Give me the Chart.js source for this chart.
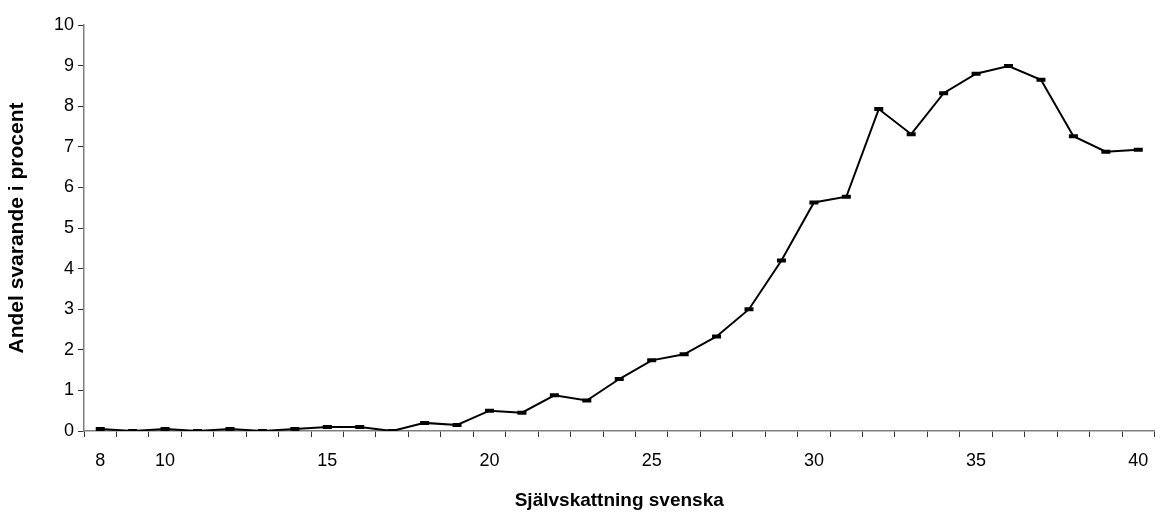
<!DOCTYPE html>
<html>
<head>
<meta charset="utf-8">
<script src="https://cdn.jsdelivr.net/npm/chart.js@4.4.0/dist/chart.umd.min.js"></script>
<style>
  html, body { margin: 0; padding: 0; background: #fff; }
  #wrap { width: 1163px; height: 514px; }
</style>
</head>
<body>
<div id="wrap"><canvas id="grafico"></canvas></div>
<script>
// Självskattning svenska -> andel svarande (%)
const poang = [8, 9, 10, 11, 12, 13, 14, 15, 16, 17, 18, 19, 20, 21, 22, 23, 24,
               25, 26, 27, 28, 29, 30, 31, 32, 33, 34, 35, 36, 37, 38, 39, 40];
const andel = [0.05, 0, 0.05, 0, 0.05, 0, 0.05, 0.1, 0.1, 0, 0.2, 0.15, 0.5, 0.45,
               0.88, 0.75, 1.28, 1.74, 1.89, 2.33, 3.0, 4.2, 5.63, 5.77, 7.93, 7.31,
               8.32, 8.8, 8.99, 8.65, 7.26, 6.88, 6.93];
const visadeEtiketter = [8, 10, 15, 20, 25, 30, 35, 40];
const yTicks = [0, 1, 2, 3, 4, 5, 6, 7, 8, 9, 10];

const typsnitt = "'Liberation Sans', Arial, sans-serif";

new Chart(document.getElementById('grafico'), {
    type: 'line',
    data: {
        labels: poang,
        datasets: [{
            data: andel,
            borderColor: '#000',
            borderWidth: 2,
            tension: 0,
            pointStyle: 'line',
            pointRadius: 4.5,
            pointBorderWidth: 4,
            pointBorderColor: '#000',
            pointBackgroundColor: '#000'
        }]
    },
    options: {
        responsive: true,
        maintainAspectRatio: false,
        animation: false,
        layout: { padding: { top: 25, right: 0, left: 0, bottom: 0 } },
        plugins: { legend: { display: false }, tooltip: { enabled: false } },
        scales: {
            x: {
                type: 'category',
                offset: true,
                afterFit: (s) => { s.height = 83; },
                grid: { offset: true, drawOnChartArea: false, tickLength: 6, color: '#333' },
                border: { color: '#808080', width: 1.5 },
                ticks: {
                    autoSkip: false,
                    maxRotation: 0,
                    padding: 13,
                    color: '#000',
                    font: { family: typsnitt, size: 18 },
                    callback: function(v, i) {
                        const p = poang[i];
                        return visadeEtiketter.includes(p) ? String(p) : '';
                    }
                },
                title: {
                    display: true,
                    text: 'Självskattning svenska',
                    color: '#000',
                    font: { family: typsnitt, size: 19, weight: 'bold' },
                    padding: { top: 4, bottom: 2 }
                }
            },
            y: {
                min: 0,
                max: 10,
                afterFit: (s) => { s.width = 84; },
                afterBuildTicks: (s) => { s.ticks = yTicks.map(v => ({ value: v })); },
                grid: { drawOnChartArea: false, tickLength: 6, color: '#333' },
                border: { color: '#808080', width: 1.5 },
                ticks: {
                    padding: 4,
                    color: '#000',
                    font: { family: typsnitt, size: 18 }
                },
                title: {
                    display: true,
                    text: 'Andel svarande i procent',
                    color: '#000',
                    font: { family: typsnitt, size: 21, weight: 'bold' },
                    padding: { top: 5, bottom: 4 }
                }
            }
        }
    }
});
</script>
</body>
</html>
